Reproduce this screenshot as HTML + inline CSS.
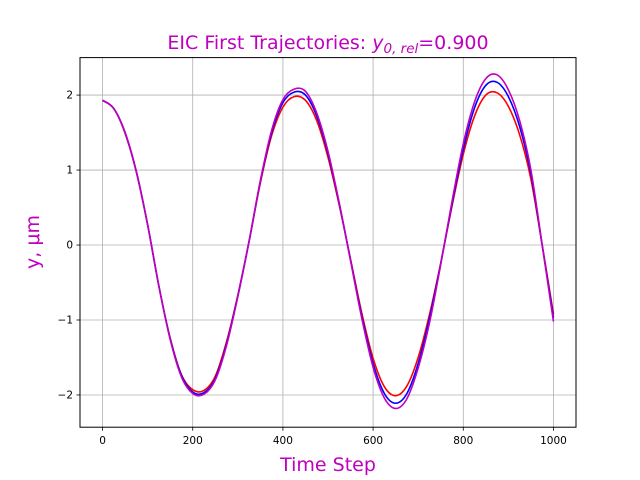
<!DOCTYPE html>
<html><head><meta charset="utf-8"><style>
html,body{margin:0;padding:0;background:#fff;}
svg{display:block;font-family:"DejaVu Sans","Liberation Sans",sans-serif;}
</style></head><body>
<svg id="chart" width="640" height="480" viewBox="0 0 640 480" xmlns="http://www.w3.org/2000/svg">
<rect width="640" height="480" fill="#fff"/>
<g id="grid"></g>
<g id="series"></g>
<rect x="80" y="57.6" width="496" height="369.6" fill="none" stroke="#000" stroke-width="1"/>
<g id="ticks"></g>
<text x="328" y="49" text-anchor="middle" font-size="19" fill="#bf00bf">EIC First Trajectories: <tspan font-style="italic">y</tspan><tspan font-style="italic" font-size="13.5" dy="4">0, rel</tspan><tspan dy="-4">=0.900</tspan></text>
<text x="328" y="471" text-anchor="middle" font-size="19" fill="#bf00bf">Time Step</text>
<text transform="translate(39,242) rotate(-90)" text-anchor="middle" font-size="19" fill="#bf00bf">y, μm</text>
</svg>
<script>
const steps = [0,25,50,75,100,125,150,175,200,225,250,275,300,325,350,375,400,425,450,475,500,525,550,575,600,625,650,675,700,725,750,775,800,825,850,875,900,925,950,975,1000];
const redValues = [1.93,1.82,1.49,0.97,0.27,-0.55,-1.24,-1.73,-1.93,-1.94,-1.75,-1.29,-0.67,0.05,0.83,1.46,1.84,1.98,1.93,1.66,1.17,0.53,-0.19,-0.91,-1.51,-1.89,-2.01,-1.88,-1.50,-0.93,-0.24,0.52,1.21,1.72,2.00,2.03,1.85,1.47,0.88,0.00,-0.92];
const blueValues = [1.93,1.82,1.50,0.98,0.27,-0.55,-1.25,-1.74,-1.96,-1.97,-1.78,-1.32,-0.68,0.05,0.85,1.50,1.90,2.04,2.00,1.72,1.22,0.55,-0.20,-0.95,-1.58,-1.98,-2.11,-1.98,-1.58,-0.98,-0.25,0.55,1.28,1.83,2.13,2.17,1.98,1.58,0.95,0.00,-0.97];
const magentaValues = [1.93,1.82,1.50,0.98,0.27,-0.55,-1.26,-1.76,-1.98,-1.99,-1.80,-1.34,-0.69,0.05,0.86,1.53,1.94,2.08,2.05,1.76,1.25,0.56,-0.21,-0.98,-1.63,-2.04,-2.18,-2.05,-1.64,-1.04,-0.26,0.58,1.35,1.91,2.22,2.27,2.07,1.66,1.00,0.00,-1.02];
const xTicks = [0,200,400,600,800,1000];
const yTicks = [-2,-1,0,1,2];
const yTickLabels = ["\u22122","\u22121","0","1","2"];

const NS = "http://www.w3.org/2000/svg";
const L=80,R=576,T=57.6,B=427.2;
const xMin=-50,xMax=1050,yMin=-2.43,yMax=2.5;
function xs(v){return L+(v-xMin)/(xMax-xMin)*(R-L);}
function ys(v){return B-(v-yMin)/(yMax-yMin)*(B-T);}
function mk(tag,attrs,parent){const e=document.createElementNS(NS,tag);for(const k in attrs)e.setAttribute(k,attrs[k]);parent.appendChild(e);return e;}
const grid=document.getElementById('grid'),ticks=document.getElementById('ticks'),series=document.getElementById('series');
xTicks.forEach(v=>{
  const x=xs(v);
  const g=mk('line',{x1:x,x2:x,y1:T,y2:B,stroke:'#b0b0b0','stroke-width':0.8},grid);
  
  
  const t=mk('line',{x1:x,x2:x,y1:B,y2:B+3.5,stroke:'#000','stroke-width':0.8},ticks);
  
  
  const l=mk('text',{x:x,y:B+17,'text-anchor':'middle','font-size':10.5},ticks);
  l.textContent=String(v);
  
  
});
yTicks.forEach((v,i)=>{
  const y=ys(v);
  const g=mk('line',{x1:L,x2:R,y1:y,y2:y,stroke:'#b0b0b0','stroke-width':0.8},grid);
  
  
  const t=mk('line',{x1:L-3.5,x2:L,y1:y,y2:y,stroke:'#000','stroke-width':0.8},ticks);
  
  
  const l=mk('text',{x:L-7,y:y+3.5,'text-anchor':'end','font-size':10.5},ticks);
  l.textContent=yTickLabels[i];
  
  
});
function pathFor(vals){
  const p=steps.map((s,i)=>[xs(s),ys(vals[i])]);
  let d='M'+p[0][0]+','+p[0][1];
  for(let i=0;i<p.length-1;i++){
    const p0=p[Math.max(0,i-1)],p1=p[i],p2=p[i+1],p3=p[Math.min(p.length-1,i+2)];
    const c1=[p1[0]+(p2[0]-p0[0])/6,p1[1]+(p2[1]-p0[1])/6];
    const c2=[p2[0]-(p3[0]-p1[0])/6,p2[1]-(p3[1]-p1[1])/6];
    d+=' C'+c1[0]+','+c1[1]+' '+c2[0]+','+c2[1]+' '+p2[0]+','+p2[1];
  }
  return d;
}
[['red',redValues,'#ff0000','red-trajectory'],['blue',blueValues,'#0000ff','blue-trajectory'],['magenta',magentaValues,'#bf00bf','magenta-trajectory']].forEach(s=>{
  const e=mk('path',{d:pathFor(s[1]),fill:'none',stroke:s[2],'stroke-width':1.6},series);
  
  
});
</script>
</body></html>
